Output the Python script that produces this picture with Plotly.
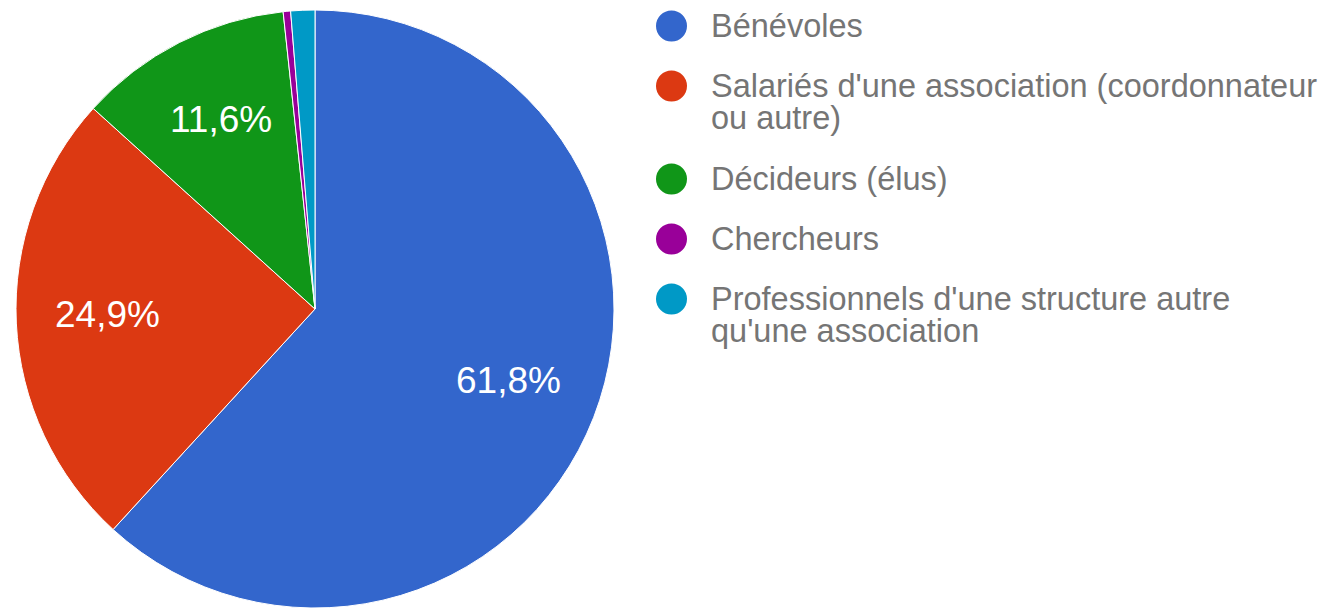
import math
import plotly.graph_objects as go

# Data
categories = [
    "Bénévoles",
    "Salariés d'une association (coordonnateur ou autre)",
    "Décideurs (élus)",
    "Chercheurs",
    "Professionnels d'une structure autre qu'une association",
]
legend_lines = [
    ["Bénévoles"],
    ["Salariés d'une association (coordonnateur", "ou autre)"],
    ["Décideurs (élus)"],
    ["Chercheurs"],
    ["Professionnels d'une structure autre", "qu'une association"],
]
values = [61.8, 24.9, 11.6, 0.4, 1.3]
colors = ["#3366CC", "#DC3912", "#109618", "#990099", "#0099C6"]

# The page body has an 8px margin: size the figure so it fits the window.
OFF = 8
W, H = 1332 - OFF, 609 - OFF
FONT = "Liberation Sans, Arial, sans-serif"


def px(x):  # window pixel x -> paper
    return (x - OFF) / W


def py(y):  # window pixel y (from top) -> paper
    return 1 - (y - OFF) / H


# Pie geometry (window pixels)
PIE_L, PIE_R, PIE_T, PIE_B = 16, 614, 10, 608
CX, CY = (PIE_L + PIE_R) / 2, (PIE_T + PIE_B) / 2
RAD = (PIE_B - PIE_T) / 2

fig = go.Figure()
fig.add_trace(go.Pie(
    labels=categories,
    values=values,
    sort=False,
    direction="clockwise",
    rotation=0,
    textinfo="none",
    marker=dict(colors=colors, line=dict(color="white", width=1)),
    showlegend=False,
    hoverinfo="label+percent",
    domain=dict(x=[px(PIE_L), px(PIE_R)], y=[py(PIE_B), py(PIE_T)]),
))

annotations = []
shapes = []

# Percent labels (French decimal comma) placed along each slice's mid-angle
total = sum(values)
cum = 0.0
for v in values:
    mid = 2 * math.pi * (cum + v / 2) / total
    cum += v
    if v < 5:
        continue
    lx = CX + 0.695 * RAD * math.sin(mid)
    ly = CY - 0.695 * RAD * math.cos(mid) - 4
    annotations.append(dict(
        text=f"{v:.1f}".replace(".", ",") + "%",
        xref="paper", yref="paper", x=px(lx), y=py(ly),
        xanchor="center", yanchor="middle", showarrow=False,
        font=dict(family=FONT, size=37, color="white"),
    ))

# Custom legend (circles + grey text)
row_y = [26, 86, 179, 239, 299]
line_gap = 32
circle_x = 671.5
circle_r = 15.5
text_x = 709
for i, (lines, col) in enumerate(zip(legend_lines, colors)):
    cy = row_y[i]
    shapes.append(dict(
        type="circle", xref="paper", yref="paper",
        x0=px(circle_x - circle_r), x1=px(circle_x + circle_r),
        y0=py(cy + circle_r), y1=py(cy - circle_r),
        fillcolor=col, line=dict(width=0),
    ))
    for j, ln in enumerate(lines):
        annotations.append(dict(
            text=ln, xref="paper", yref="paper",
            x=px(text_x), y=py(cy + j * line_gap),
            xanchor="left", yanchor="middle", showarrow=False,
            font=dict(family=FONT, size=32.5, color="#757575"),
        ))

fig.update_layout(
    width=W, height=H,
    margin=dict(l=0, r=0, t=0, b=0),
    paper_bgcolor="white",
    plot_bgcolor="white",
    shapes=shapes,
    annotations=annotations,
)

fig.write_html("out.html")
